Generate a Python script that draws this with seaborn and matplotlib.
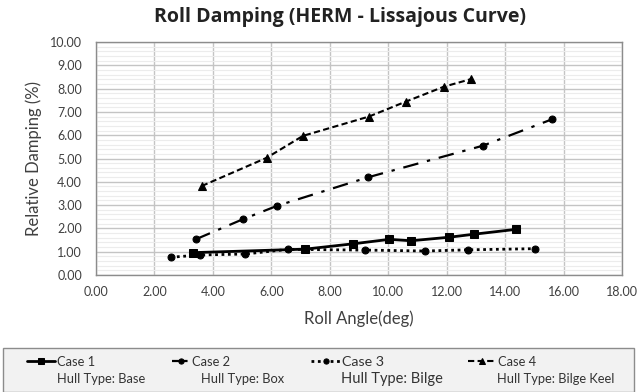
import numpy as np
import pandas as pd
import matplotlib
matplotlib.use("Agg")
import matplotlib.pyplot as plt
from matplotlib.ticker import MultipleLocator, FormatStrFormatter
from matplotlib.patches import Rectangle
import seaborn as sns

# ---- data ----
case1_x = [3.33, 7.16, 8.81, 10.04, 10.78, 12.08, 12.93, 14.38]
case1_y = [0.96, 1.11, 1.34, 1.53, 1.47, 1.62, 1.75, 1.96]
case2_x = [3.41, 5.02, 6.20, 9.30, 13.24, 15.60]
case2_y = [1.53, 2.39, 2.97, 4.19, 5.55, 6.68]
case3_x = [2.55, 3.57, 5.10, 6.57, 9.20, 11.27, 12.72, 15.03]
case3_y = [0.76, 0.86, 0.90, 1.10, 1.07, 1.03, 1.08, 1.13]
case4_x = [3.62, 5.84, 7.08, 9.34, 10.60, 11.90, 12.84]
case4_y = [3.82, 5.03, 5.97, 6.80, 7.44, 8.08, 8.41]

case_names = ["Case 1", "Case 2", "Case 3", "Case 4"]
hull_types = ["Hull Type: Base", "Hull Type: Box", "Hull Type: Bilge", "Hull Type: Bilge Keel"]
title = "Roll Damping (HERM - Lissajous Curve)"
xlabel = "Roll Angle(deg)"
ylabel = "Relative Damping (%)"

sns.set_theme(style="white")
plt.rcParams['font.family'] = ['Lato', 'DejaVu Sans']

fig = plt.figure(figsize=(6.39, 3.92), dpi=100)
W, H = 639, 392
ax = fig.add_axes([96 / W, 1 - 275 / H, (622 - 96) / W, (275 - 42) / H])

styles = [
    dict(linestyle='-', marker='s', markersize=6, linewidth=2.0),
    dict(linestyle=(0, (7, 4, 1.5, 4)), marker='o', markersize=5, linewidth=1.6),
    dict(linestyle=(0, (1, 1.3)), marker='o', markersize=5, linewidth=2.0),
    dict(linestyle=(0, (3, 1.6)), marker='^', markersize=6, linewidth=1.5),
]
xs = [case1_x, case2_x, case3_x, case4_x]
ys = [case1_y, case2_y, case3_y, case4_y]

handles = []
for name, x, y, st in zip(case_names, xs, ys, styles):
    df = pd.DataFrame({"x": x, "y": y})
    sns.lineplot(data=df, x="x", y="y", sort=False, ax=ax, color='black',
                 markeredgecolor='black', label=name, legend=False, **st)
    handles.append(ax.lines[-1])

ax.set_xlim(0, 18)
ax.set_ylim(0, 10)
ax.xaxis.set_major_locator(MultipleLocator(2))
ax.yaxis.set_major_locator(MultipleLocator(1))
ax.yaxis.set_minor_locator(MultipleLocator(0.2))
ax.xaxis.set_major_formatter(FormatStrFormatter('%.2f'))
ax.yaxis.set_major_formatter(FormatStrFormatter('%.2f'))
ax.grid(which='major', color='#c4c4c4', linewidth=1.0)
ax.grid(which='minor', axis='y', color='#ececec', linewidth=0.8)
ax.set_axisbelow(True)
for side, sp in ax.spines.items():
    sp.set_visible(True)
    sp.set_color('#8c8c8c')
    sp.set_linewidth(1.0)
ax.tick_params(axis='both', which='both', length=0, labelsize=9, colors='#404040')
ax.tick_params(axis='y', pad=10)
ax.tick_params(axis='x', pad=8)
ax.set_xlabel(xlabel, fontsize=12, color='#404040', labelpad=9)
ax.set_ylabel(ylabel, fontsize=12, color='#404040', labelpad=6)

fig.text(340 / W, 1 - 17 / H, title, ha='center', va='center', fontsize=14,
         fontweight='bold', family=['Open Sans', 'DejaVu Sans'], color='#222222')

# legend box
fig.patches.append(Rectangle((3 / W, 0), (634 - 3) / W, (392 - 348) / H,
                             transform=fig.transFigure, facecolor='#f2f2f2',
                             edgecolor='#8c8c8c', linewidth=1.0, zorder=0))

hx = [(27, 55), (172, 190), (311, 340), (468, 496)]
tx = [57, 201, 341, 497]
tsize = [9.3, 9.3, 10.3, 9.3]
hsize = [9.3, 9.3, 10.5, 9.3]
for i in range(4):
    x0, x1 = hx[i]
    lw = (x1 - x0) * 0.72 / tsize[i]  # handle length in font-size units
    leg = fig.legend([handles[i]], [case_names[i]], loc='center left',
                     bbox_to_anchor=(x0 / W, 1 - 362 / H), frameon=False,
                     handlelength=lw, handletextpad=0.15, fontsize=tsize[i],
                     borderpad=0, borderaxespad=0, markerscale=0.75)
    for t in leg.get_texts():
        t.set_color('#333333')
    fig.text(tx[i] / W, 1 - 379 / H, hull_types[i], ha='left', va='center',
             fontsize=hsize[i], color='#333333')

fig.savefig("out.png", dpi=100)
